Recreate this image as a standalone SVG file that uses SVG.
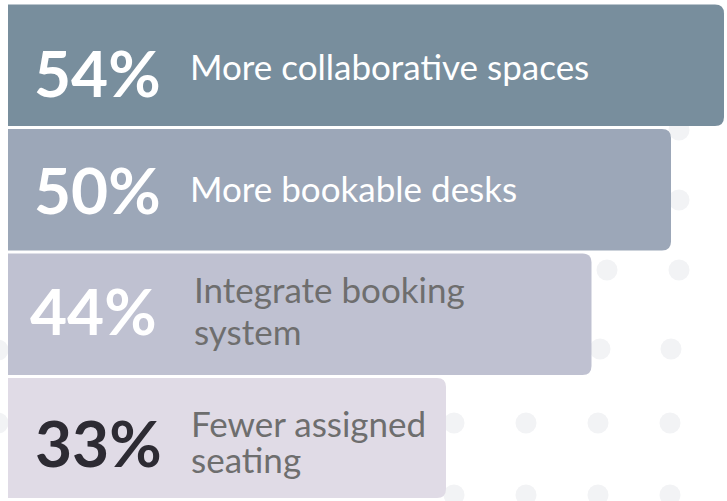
<svg xmlns="http://www.w3.org/2000/svg" width="727" height="501" viewBox="0 0 727 501">
  <style>
    .dot { fill: #f2f3f5; }
    .pct { font-family: Lato, "Liberation Sans", sans-serif; font-weight: 700; font-size: 64px; }
    .lbl { font-family: Lato, "Liberation Sans", sans-serif; font-weight: 400; font-size: 35px; }
    .w { fill: #ffffff; }
    .g { fill: #6e6e6e; }
    .d { fill: #2d2b33; }
  </style>
  <rect x="0" y="0" width="727" height="501" fill="#ffffff"/>
  <g id="dots">
    <circle class="dot" cx="679" cy="130" r="10.5"/>
    <circle class="dot" cx="679" cy="200" r="10.5"/>
    <circle class="dot" cx="607" cy="270" r="10.5"/>
    <circle class="dot" cx="679" cy="270" r="10.5"/>
    <circle class="dot" cx="600" cy="349" r="10.5"/>
    <circle class="dot" cx="671" cy="349" r="10.5"/>
    <circle class="dot" cx="-2" cy="350" r="10.5"/>
    <circle class="dot" cx="-2" cy="423" r="10.5"/>
    <circle class="dot" cx="454" cy="423" r="10.5"/>
    <circle class="dot" cx="526" cy="423" r="10.5"/>
    <circle class="dot" cx="598" cy="423" r="10.5"/>
    <circle class="dot" cx="670" cy="423" r="10.5"/>
    <circle class="dot" cx="454" cy="495" r="10.5"/>
    <circle class="dot" cx="526" cy="495" r="10.5"/>
    <circle class="dot" cx="598" cy="495" r="10.5"/>
    <circle class="dot" cx="670" cy="495" r="10.5"/>
  </g>
  <g id="bar1">
    <path d="M8 4.5 H715 Q724 4.5 724 13.5 V117 Q724 126 715 126 H8 Z" fill="#788e9d"/>
    <text class="pct w" x="34" y="97">54%</text>
    <text class="lbl w" x="190" y="80">More collaborative spaces</text>
  </g>
  <g id="bar2">
    <path d="M8 129 H662 Q671 129 671 138 V241.5 Q671 250.5 662 250.5 H8 Z" fill="#9ca7b8"/>
    <text class="pct w" x="34" y="214">50%</text>
    <text class="lbl w" x="190" y="202">More bookable desks</text>
  </g>
  <g id="bar3">
    <path d="M8 253.5 H582.5 Q591.5 253.5 591.5 262.5 V366 Q591.5 375 582.5 375 H8 Z" fill="#bfc1d1"/>
    <text class="pct w" x="30" y="335">44%</text>
    <text class="lbl g" x="194" y="303">Integrate booking<tspan x="194" y="345">system</tspan></text>
  </g>
  <g id="bar4">
    <path d="M8 378 H437 Q446 378 446 387 V489 Q446 498 437 498 H8 Z" fill="#e0dbe6"/>
    <text class="pct d" x="35" y="467">33%</text>
    <text class="lbl g" x="191" y="437" font-size="34.5">Fewer assigned</text>
    <text class="lbl g" x="191" y="473" font-size="34.5">seating</text>
  </g>
  <g id="connectors"/>
</svg>
